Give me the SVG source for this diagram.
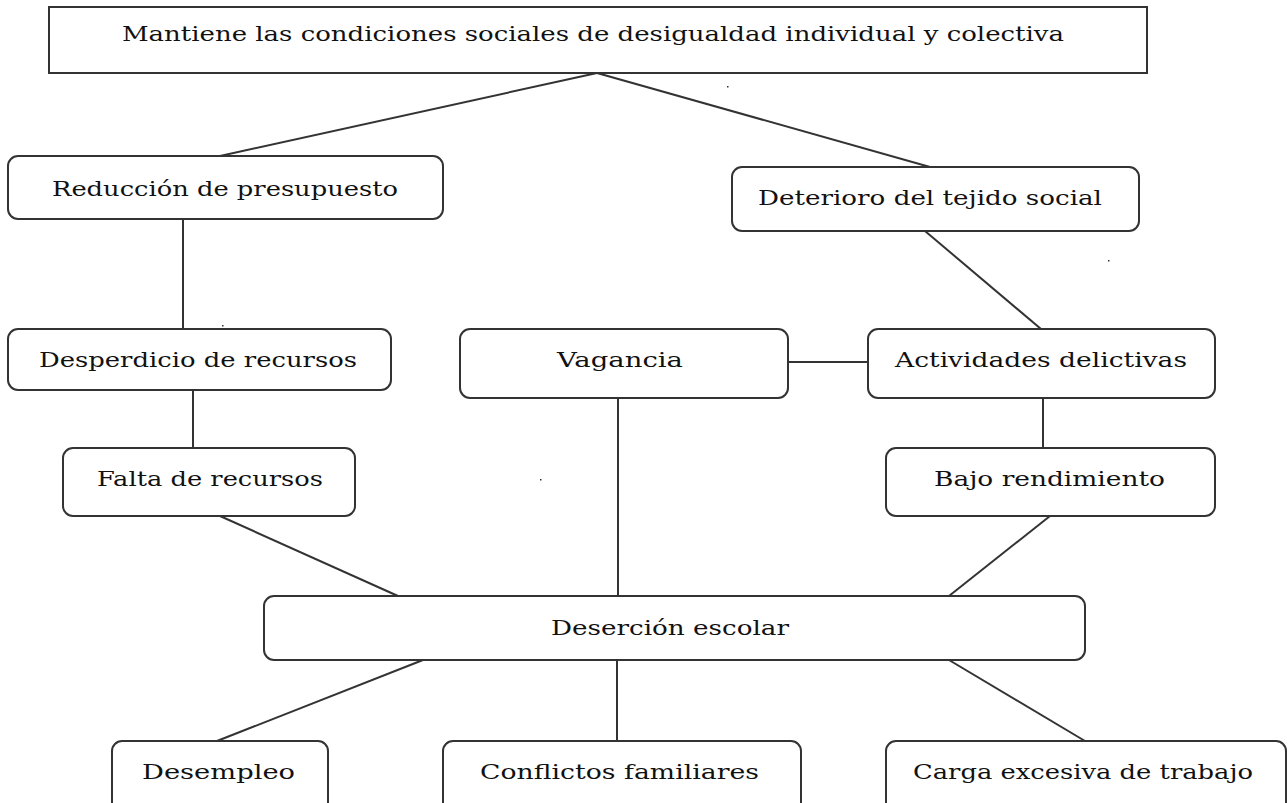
<svg xmlns="http://www.w3.org/2000/svg" width="1288" height="803" viewBox="0 0 1288 803">
<style>
.box{fill:#ffffff;stroke:#333333;stroke-width:2}
.lbl{font-family:"DejaVu Serif","Liberation Serif",serif;font-size:20px;fill:#111111;text-anchor:middle}
.conn line{stroke:#333333;stroke-width:2}
</style>
<rect width="1288" height="803" fill="#ffffff"/>
<g id="connectors" class="conn">
<line x1="597" y1="73" x2="220" y2="156"/>
<line x1="597" y1="73" x2="930" y2="167"/>
<line x1="183" y1="219" x2="183" y2="329"/>
<line x1="925" y1="231" x2="1041" y2="329"/>
<line x1="193" y1="390" x2="193" y2="448"/>
<line x1="788" y1="362" x2="868" y2="362"/>
<line x1="618" y1="398" x2="618" y2="596"/>
<line x1="1043" y1="398" x2="1043" y2="448"/>
<line x1="220" y1="516" x2="398" y2="596"/>
<line x1="1050" y1="516" x2="949" y2="596"/>
<line x1="423" y1="660" x2="217" y2="741"/>
<line x1="617" y1="660" x2="617" y2="741"/>
<line x1="949" y1="660" x2="1085" y2="741"/>
</g>
<g id="n-top"><rect class="box" x="49" y="7" width="1098" height="66"/><text class="lbl" x="593" y="41" textLength="942" lengthAdjust="spacingAndGlyphs">Mantiene las condiciones sociales de desigualdad individual y colectiva</text></g>
<g id="n-reduccion"><rect class="box" x="8" y="156" width="435" height="63" rx="10"/><text class="lbl" x="225" y="196" textLength="346" lengthAdjust="spacingAndGlyphs">Reducción de presupuesto</text></g>
<g id="n-deterioro"><rect class="box" x="732" y="167" width="407" height="64" rx="10"/><text class="lbl" x="930" y="205" textLength="344" lengthAdjust="spacingAndGlyphs">Deterioro del tejido social</text></g>
<g id="n-desperdicio"><rect class="box" x="8" y="329" width="383" height="61" rx="10"/><text class="lbl" x="198" y="367" textLength="318" lengthAdjust="spacingAndGlyphs">Desperdicio de recursos</text></g>
<g id="n-vagancia"><rect class="box" x="460" y="329" width="328" height="69" rx="10"/><text class="lbl" x="620" y="367" textLength="126" lengthAdjust="spacingAndGlyphs">Vagancia</text></g>
<g id="n-actividades"><rect class="box" x="868" y="329" width="347" height="69" rx="10"/><text class="lbl" x="1041" y="367" textLength="292" lengthAdjust="spacingAndGlyphs">Actividades delictivas</text></g>
<g id="n-falta"><rect class="box" x="63" y="448" width="292" height="68" rx="10"/><text class="lbl" x="210" y="486" textLength="226" lengthAdjust="spacingAndGlyphs">Falta de recursos</text></g>
<g id="n-bajo"><rect class="box" x="886" y="448" width="329" height="68" rx="10"/><text class="lbl" x="1049.5" y="486" textLength="231" lengthAdjust="spacingAndGlyphs">Bajo rendimiento</text></g>
<g id="n-desercion"><rect class="box" x="264" y="596" width="821" height="64" rx="10"/><text class="lbl" x="670" y="635" textLength="238" lengthAdjust="spacingAndGlyphs">Deserción escolar</text></g>
<g id="n-desempleo"><rect class="box" x="112" y="741" width="216" height="72" rx="10"/><text class="lbl" x="218.5" y="779" textLength="153" lengthAdjust="spacingAndGlyphs">Desempleo</text></g>
<g id="n-conflictos"><rect class="box" x="443" y="741" width="358" height="72" rx="10"/><text class="lbl" x="619.5" y="779" textLength="279" lengthAdjust="spacingAndGlyphs">Conflictos familiares</text></g>
<g id="n-carga"><rect class="box" x="886" y="741" width="400" height="72" rx="10"/><text class="lbl" x="1083" y="779" textLength="340" lengthAdjust="spacingAndGlyphs">Carga excesiva de trabajo</text></g>
<g id="specks" fill="#333333">
<rect x="727" y="86" width="1.5" height="1.5"/>
<rect x="1108" y="260" width="1.5" height="1.5"/>
<rect x="222" y="325" width="1.5" height="1.5"/>
<rect x="540" y="479" width="1.5" height="1.5"/>
</g>
</svg>
